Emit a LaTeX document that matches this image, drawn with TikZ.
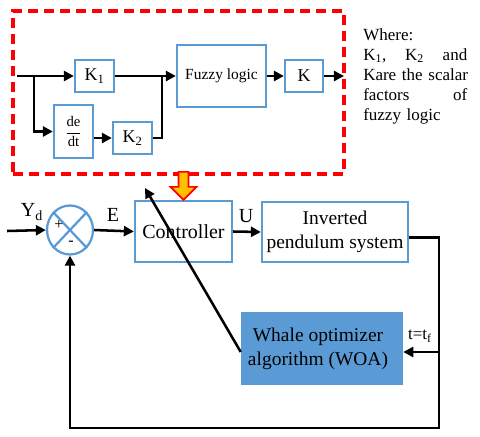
\documentclass[tikz,border=0pt]{standalone}
\usepackage{fontspec}
\setmainfont{Liberation Serif}
\usetikzlibrary{arrows.meta,shapes.geometric,calc}
\definecolor{bblue}{HTML}{5B9BD5}
\definecolor{rred}{HTML}{FF0000}
\definecolor{oorange}{HTML}{FFC000}
\tikzset{
  box/.style={draw=bblue, line width=1.7pt, fill=white, inner sep=0pt, align=center},
  wbox/.style={fill=bblue, draw=none, inner sep=0pt, align=center},
  conn/.style={line width=1.9pt, -{Triangle[length=7.5pt,width=7.5pt]}},
  plain/.style={line width=1.9pt},
  redbox/.style={draw=rred, line width=2.6pt, dash pattern=on 7.5pt off 4.5pt, inner sep=0pt},
  lbl/.style={inner sep=0pt, font=\fontsize{15}{17}\selectfont}
}
\begin{document}
\begin{tikzpicture}[x=0.75pt,y=-0.75pt]
\useasboundingbox (0,0) rectangle (480,437);
% fuzzy controller block
\node[redbox, minimum width=248.25pt, minimum height=122.25pt] (fz) at (178.5,92.5) {};
\node[box, minimum width=29.25pt, minimum height=24pt, font=\fontsize{13.5}{15}\selectfont] (K1) at (94.5,76) {K\textsubscript{1}};
\node[box, minimum width=29.25pt, minimum height=39.75pt, font=\fontsize{11}{13}\selectfont] (dedt) at (73.5,131.5) {$\displaystyle\frac{\mbox{de}}{\mbox{dt}}$};
\node[box, minimum width=29.25pt, minimum height=24pt, font=\fontsize{13.5}{15}\selectfont] (K2) at (132.5,138) {K\textsubscript{2}};
\node[box, minimum width=66.75pt, minimum height=46.5pt, font=\fontsize{11.6}{13}\selectfont] (fuzzy) at (221.5,76) {Fuzzy logic};
\node[box, minimum width=28.5pt, minimum height=24pt, font=\fontsize{13.5}{15}\selectfont] (K) at (304,76) {K};
\coordinate (in) at (17,76);
\coordinate (b1) at (34,76);
\coordinate (j) at (162,76);
\coordinate (out) at (344,76);
\draw[conn] (in) -- (K1.west);
\draw[conn] (b1) |- (dedt.west);
\draw[conn] (dedt.east |- K2.west) -- (K2.west);
\draw[plain] (K2.east) -| (j);
\draw[conn] (K1.east) -- (fuzzy.west);
\draw[conn] (fuzzy.east) -- (K.west);
\draw[conn] (K.east) -- (out);
% note
\node[anchor=north west, inner sep=0pt, text width=78pt, align=left, font=\fontsize{12.75}{15}\selectfont] (note) at (363,28)
  {Where:\\ K\textsubscript{1},\hfill K\textsubscript{2}\hfill and\\ \mbox{Kare the scalar}\\ factors\hfill of\\ fuzzy logic};
% main loop
\node[draw=bblue, line width=1.7pt, ellipse, minimum width=34.5pt, minimum height=36.75pt, inner sep=0pt] (s) at (70,230) {};
\draw[draw=bblue, line width=1.7pt] (s.north west) -- (s.south east);
\draw[draw=bblue, line width=1.7pt] (s.north east) -- (s.south west);
\node[inner sep=0pt, font=\fontsize{12}{14}\selectfont] (plus) at (59,225) {+};
\node[inner sep=0pt, font=\fontsize{12}{14}\selectfont] (minus) at (71,243) {-};
\node[box, minimum width=72.75pt, minimum height=45.75pt, font=\fontsize{15}{17}\selectfont] (ctrl) at (183.5,231.5) {Controller};
\node[box, minimum width=109.5pt, minimum height=45pt, font=\fontsize{14.6}{17.5}\selectfont] (pend) at (335,232) {Inverted\\pendulum system};
\node[wbox, minimum width=121.5pt, minimum height=54.75pt, font=\fontsize{14.6}{18}\selectfont] (woa) at (322,348.5) {Whale optimizer\hspace*{6pt}\\algorithm (WOA)\hspace*{6pt}};
\coordinate (yin) at (7,231);
\coordinate (c2) at (439,428);
\coordinate (c3) at (439,352);
\coordinate (d) at (145,188);
\draw[conn] (yin) -- (s.west);
\node[lbl] (Yd) at (32,212) {Y\textsubscript{d}};
\draw[conn] (s.east) -- (ctrl.west);
\node[lbl] (E) at (113,215) {E};
\draw[conn] (ctrl.east) -- (pend.west);
\node[lbl] (U) at (246,216) {U};
\draw[conn] ([yshift=-4pt]pend.east) -| (c2) -| (s.south);
\draw[conn] (c3) -- (c3 -| woa.east);
\node[inner sep=0pt, font=\fontsize{12.75}{15}\selectfont] (tf) at (420,336) {t=t\textsubscript{f}};
\draw[conn] ([yshift=-2.6pt]woa.west) -- (d);
% orange arrow
\draw[draw=rred, line width=1.2pt, fill=oorange, line join=miter]
  ($(ctrl.north)+(-5,-28)$) -- ($(ctrl.north)+(-5,-13)$) -- ($(ctrl.north)+(-13,-13)$)
  -- (ctrl.north) -- ($(ctrl.north)+(13,-13)$) -- ($(ctrl.north)+(5,-13)$)
  -- ($(ctrl.north)+(5,-28)$) -- cycle;
\end{tikzpicture}
\end{document}
